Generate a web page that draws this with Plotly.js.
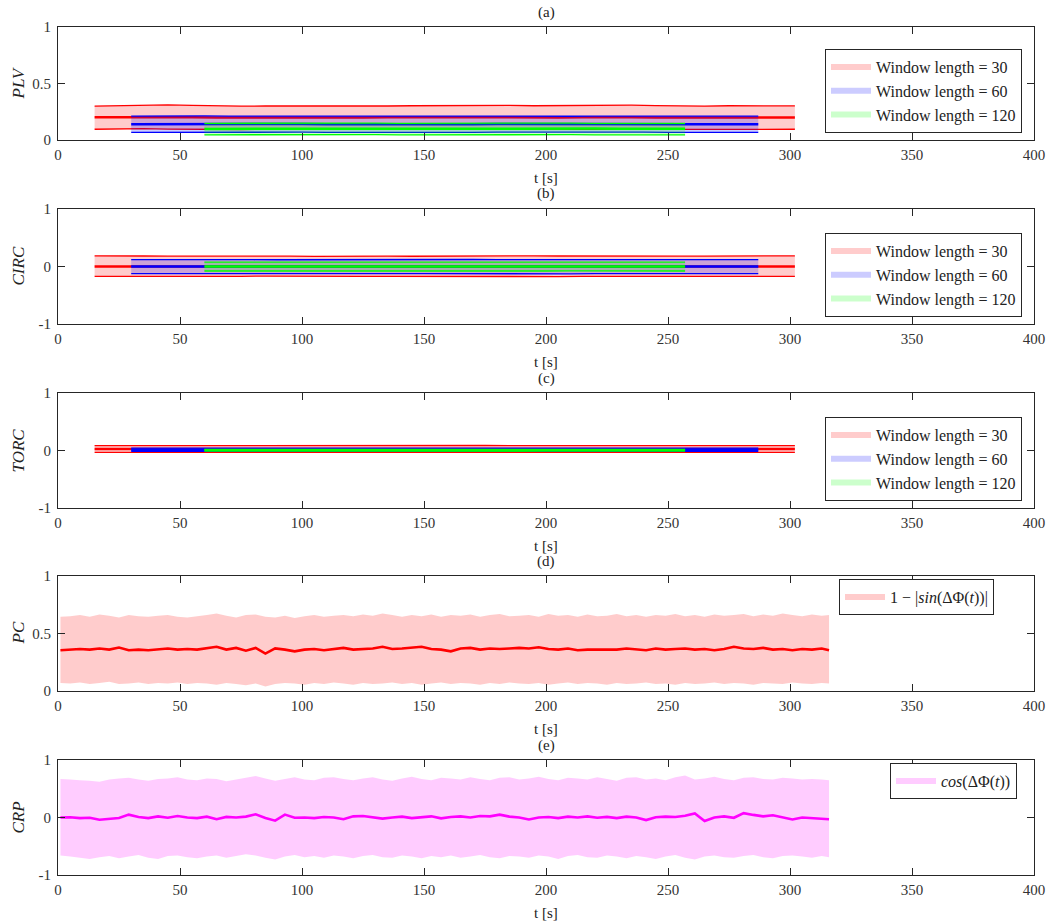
<!DOCTYPE html>
<html>
<head>
<meta charset="utf-8">
<script src="https://cdn.plot.ly/plotly-3.0.1.min.js"></script>
<style>html,body{margin:0;padding:0;background:#fff;}#plot{width:1050px;height:924px;}</style>
</head>
<body>
<div id="plot"></div>
<script>
// ---------------- DATA ----------------
const xTickVals = [0, 50, 100, 150, 200, 250, 300, 350, 400];
const yTicksPos = [0, 0.5, 1];
const yTicksPosText = ['0', '0.5', '1'];
const yTicksSym = [-1, 0, 1];
const yTicksSymText = ['-1', '0', '1'];
const panelLabels = ['(a)', '(b)', '(c)', '(d)', '(e)'];
const yLabels = ['PLV', 'CIRC', 'TORC', 'PC', 'CRP'];
const windowNames = ['Window length = 30', 'Window length = 60', 'Window length = 120'];

// window centres (s)
const t30 = [15,25,35,45,55,65,75,85,95,105, 115,125,135,145,155,165,175,185,195,205, 215,225,235,245,255,265,275,285,295,302];
const t60 = [30,40,50,60,70,80,90,100,110,120, 130,140,150,160,170,180,190,200,210,220, 230,240,250,260,270,280,287];
const t120 = [60,70,80,90,100,110,120,130,140,150, 160,170,180,190,200,210,220,230,240,250, 257];

// (a) PLV
const plv30Up   = [0.300,0.305,0.308,0.310,0.306,0.302,0.300,0.301,0.300,0.302, 0.303,0.300,0.301,0.303,0.305,0.302,0.304,0.306,0.303,0.305, 0.307,0.310,0.308,0.305,0.302,0.300,0.303,0.301,0.300,0.302];
const plv30Mean = [0.202,0.203,0.205,0.204,0.202,0.200,0.199,0.200,0.201,0.200, 0.199,0.200,0.201,0.200,0.202,0.201,0.200,0.202,0.201,0.200, 0.201,0.203,0.202,0.200,0.199,0.200,0.201,0.200,0.199,0.200];
const plv30Lo   = [0.095,0.098,0.100,0.097,0.094,0.095,0.093,0.095,0.096,0.094, 0.095,0.097,0.096,0.094,0.095,0.097,0.096,0.095,0.094,0.096, 0.095,0.097,0.096,0.094,0.095,0.093,0.095,0.096,0.094,0.095];
const plv60Up   = [0.212,0.214,0.215,0.213,0.211,0.210,0.211,0.212,0.211,0.210, 0.211,0.212,0.211,0.210,0.212,0.213,0.212,0.211,0.210,0.211, 0.212,0.213,0.211,0.210,0.211,0.212,0.211];
const plv60Mean = [0.140,0.141,0.142,0.141,0.140,0.139,0.140,0.141,0.140,0.139, 0.140,0.141,0.140,0.139,0.140,0.141,0.140,0.139,0.140,0.141, 0.140,0.141,0.140,0.139,0.140,0.141,0.140];
const plv60Lo   = [0.068,0.069,0.070,0.069,0.068,0.067,0.068,0.069,0.068,0.067, 0.068,0.069,0.068,0.067,0.068,0.069,0.070,0.069,0.068,0.067, 0.068,0.069,0.068,0.067,0.068,0.069,0.068];
const plv120Up   = [0.148,0.149,0.150,0.149,0.148,0.149,0.150,0.149,0.148,0.149, 0.150,0.151,0.150,0.149,0.150,0.149,0.148,0.149,0.150,0.149, 0.148];
const plv120Mean = [0.098,0.099,0.100,0.099,0.098,0.099,0.100,0.101,0.100,0.099, 0.100,0.101,0.100,0.099,0.100,0.101,0.102,0.100,0.099,0.100, 0.099];
const plv120Lo   = [0.046,0.047,0.048,0.047,0.046,0.047,0.048,0.047,0.046,0.047, 0.048,0.047,0.046,0.047,0.048,0.047,0.046,0.047,0.048,0.047, 0.046];

// (b) CIRC
const circ30Up   = [0.185,0.188,0.183,0.180,0.182,0.178,0.175,0.178,0.180,0.177, 0.182,0.185,0.180,0.178,0.182,0.184,0.180,0.182,0.185,0.183, 0.180,0.182,0.186,0.183,0.180,0.182,0.185,0.183,0.186,0.184];
const circ30Mean = [0.002,0.003,0.002,0.001,0.002,0.001,0.000,0.001,0.002,0.001, 0.000,0.001,0.002,0.001,0.000,0.001,0.002,0.001,0.000,0.001, 0.002,0.001,0.000,0.001,0.002,0.001,0.000,0.001,0.002,0.001];
const circ30Lo   = [-0.170,-0.172,-0.168,-0.172,-0.175,-0.173,-0.170,-0.168,-0.172,-0.175, -0.178,-0.173,-0.170,-0.172,-0.175,-0.172,-0.170,-0.168,-0.172,-0.175, -0.172,-0.170,-0.173,-0.175,-0.172,-0.170,-0.173,-0.171,-0.170,-0.172];
const circ60Up   = [0.120,0.122,0.121,0.119,0.120,0.118,0.117,0.119,0.120,0.121, 0.122,0.120,0.119,0.121,0.122,0.120,0.119,0.121,0.122,0.120, 0.119,0.120,0.122,0.121,0.119,0.120,0.121];
const circ60Mean = [0.001,0.001,0.000,0.000,0.001,0.000,-0.001,0.000,0.001,0.000, 0.000,0.001,0.000,-0.001,0.000,0.001,0.000,0.000,0.001,0.000, -0.001,0.000,0.001,0.000,0.000,0.001,0.000];
const circ60Lo   = [-0.125,-0.126,-0.124,-0.125,-0.127,-0.126,-0.124,-0.125,-0.127,-0.128, -0.126,-0.125,-0.124,-0.126,-0.127,-0.125,-0.124,-0.126,-0.127,-0.125, -0.124,-0.126,-0.125,-0.124,-0.126,-0.125,-0.124];
const circ120Up   = [0.076,0.077,0.076,0.075,0.076,0.077,0.078,0.077,0.076,0.075, 0.076,0.077,0.078,0.077,0.076,0.075,0.076,0.077,0.076,0.075, 0.076];
const circ120Mean = [0.000,0.001,0.000,-0.001,0.000,0.001,0.000,0.000,-0.001,0.000, 0.001,0.000,0.000,0.001,0.000,-0.001,0.000,0.001,0.000,0.000, 0.001];
const circ120Lo   = [-0.078,-0.079,-0.078,-0.077,-0.078,-0.079,-0.080,-0.079,-0.078,-0.077, -0.078,-0.079,-0.080,-0.079,-0.078,-0.077,-0.078,-0.079,-0.078,-0.077, -0.078];

// (c) TORC
const torc30Up   = [0.085,0.086,0.085,0.084,0.085,0.086,0.085,0.084,0.085,0.086, 0.087,0.086,0.085,0.084,0.085,0.086,0.087,0.086,0.085,0.084, 0.085,0.086,0.087,0.086,0.085,0.084,0.085,0.086,0.085,0.084];
const torc30Mean = [0.026,0.026,0.025,0.025,0.026,0.025,0.024,0.025,0.026,0.025, 0.025,0.026,0.025,0.024,0.025,0.026,0.026,0.025,0.024,0.025, 0.026,0.025,0.025,0.026,0.025,0.024,0.025,0.026,0.025,0.025];
const torc30Lo   = [-0.032,-0.031,-0.032,-0.033,-0.032,-0.031,-0.032,-0.033,-0.032,-0.031, -0.032,-0.033,-0.032,-0.031,-0.032,-0.033,-0.032,-0.031,-0.032,-0.033, -0.032,-0.031,-0.032,-0.033,-0.032,-0.031,-0.032,-0.033,-0.032,-0.031];
const torc60Up   = [0.040,0.041,0.040,0.039,0.040,0.041,0.040,0.039,0.040,0.041, 0.040,0.039,0.040,0.041,0.040,0.039,0.040,0.041,0.040,0.039, 0.040,0.041,0.040,0.039,0.040,0.041,0.040];
const torc60Mean = [0.012,0.012,0.013,0.012,0.011,0.012,0.013,0.012,0.011,0.012, 0.012,0.013,0.012,0.011,0.012,0.013,0.012,0.011,0.012,0.012, 0.013,0.012,0.011,0.012,0.013,0.012,0.012];
const torc60Lo   = [-0.016,-0.015,-0.016,-0.017,-0.016,-0.015,-0.016,-0.017,-0.016,-0.015, -0.016,-0.017,-0.016,-0.015,-0.016,-0.017,-0.016,-0.015,-0.016,-0.017, -0.016,-0.015,-0.016,-0.017,-0.016,-0.015,-0.016];
const torc120Up   = [0.020,0.021,0.020,0.019,0.020,0.021,0.020,0.019,0.020,0.021, 0.020,0.019,0.020,0.021,0.020,0.019,0.020,0.021,0.020,0.019, 0.020];
const torc120Mean = [0.006,0.006,0.005,0.006,0.007,0.006,0.005,0.006,0.007,0.006, 0.005,0.006,0.007,0.006,0.005,0.006,0.007,0.006,0.005,0.006, 0.006];
const torc120Lo   = [-0.008,-0.009,-0.008,-0.007,-0.008,-0.009,-0.008,-0.007,-0.008,-0.009, -0.008,-0.007,-0.008,-0.009,-0.008,-0.007,-0.008,-0.009,-0.008,-0.007, -0.008];

// instantaneous measures (s)
const tInst = [1,5,9,13,17,21,25,29,33,37, 41,45,49,53,57,61,65,69,73,77, 81,85,89,93,97,101,105,109,113,117, 121,125,129,133,137,141,145,149,153,157, 161,165,169,173,177,181,185,189,193,197, 201,205,209,213,217,221,225,229,233,237, 241,245,249,253,257,261,265,269,273,277, 281,285,289,293,297,301,305,309,313,316];

// (d) PC = 1 - |sin(dPhi)|
const pcMean = [0.355,0.360,0.365,0.360,0.370,0.360,0.378,0.355,0.360,0.355, 0.365,0.370,0.360,0.365,0.360,0.370,0.385,0.360,0.375,0.350, 0.375,0.325,0.370,0.360,0.345,0.360,0.365,0.355,0.365,0.375, 0.360,0.365,0.370,0.385,0.365,0.370,0.375,0.385,0.365,0.360, 0.345,0.370,0.375,0.360,0.370,0.365,0.370,0.375,0.370,0.380, 0.365,0.360,0.370,0.355,0.360,0.360,0.365,0.360,0.370,0.365, 0.355,0.370,0.360,0.365,0.370,0.360,0.365,0.355,0.365,0.385, 0.370,0.365,0.375,0.360,0.365,0.355,0.365,0.360,0.370,0.355];
const pcUp   = [0.645,0.650,0.660,0.645,0.665,0.655,0.640,0.660,0.650,0.645, 0.655,0.660,0.645,0.640,0.650,0.660,0.675,0.655,0.640,0.660, 0.665,0.645,0.640,0.655,0.635,0.650,0.660,0.645,0.655,0.660, 0.650,0.665,0.655,0.675,0.660,0.645,0.660,0.650,0.665,0.645, 0.660,0.655,0.665,0.645,0.660,0.670,0.650,0.655,0.660,0.645, 0.670,0.655,0.660,0.645,0.665,0.650,0.655,0.670,0.650,0.660, 0.645,0.660,0.655,0.670,0.650,0.660,0.645,0.665,0.655,0.660, 0.670,0.650,0.665,0.655,0.675,0.660,0.650,0.665,0.655,0.660];
const pcLo   = [0.070,0.065,0.075,0.060,0.070,0.080,0.060,0.065,0.075,0.060, 0.070,0.065,0.075,0.060,0.070,0.065,0.055,0.070,0.060,0.050, 0.065,0.040,0.060,0.070,0.065,0.055,0.070,0.060,0.075,0.065, 0.055,0.070,0.060,0.065,0.075,0.060,0.070,0.055,0.065,0.075, 0.060,0.070,0.065,0.055,0.070,0.060,0.075,0.065,0.060,0.070, 0.055,0.065,0.075,0.060,0.070,0.065,0.055,0.070,0.060,0.065, 0.075,0.060,0.065,0.055,0.070,0.060,0.065,0.075,0.060,0.070, 0.065,0.055,0.070,0.065,0.060,0.075,0.065,0.060,0.070,0.065];

// (e) CRP = cos(dPhi)
const crpMean = [0.000,0.005,-0.010,-0.005,-0.040,-0.020,-0.010,0.050,0.010,-0.010, 0.020,-0.005,0.025,0.000,-0.010,0.015,-0.030,0.010,0.000,0.015, 0.055,-0.010,-0.055,0.050,-0.005,0.000,-0.010,0.010,0.000,-0.030, 0.020,0.025,0.000,-0.020,0.000,0.015,-0.010,0.005,0.020,-0.015, 0.010,0.020,0.000,0.025,0.020,0.050,0.015,0.000,-0.035,0.000, 0.010,-0.010,0.015,0.000,0.020,-0.005,0.010,-0.010,0.015,0.000, -0.045,0.005,0.015,0.010,0.030,0.070,-0.060,0.000,0.020,-0.005, 0.075,0.045,0.020,0.040,0.005,-0.035,0.000,-0.010,-0.015,-0.030];
const crpUp   = [0.67,0.66,0.65,0.64,0.62,0.66,0.68,0.69,0.66,0.64, 0.67,0.68,0.70,0.66,0.65,0.68,0.67,0.63,0.66,0.69, 0.72,0.68,0.64,0.67,0.70,0.66,0.65,0.69,0.70,0.67, 0.65,0.68,0.70,0.66,0.64,0.68,0.71,0.67,0.65,0.69, 0.68,0.66,0.70,0.67,0.65,0.69,0.70,0.66,0.68,0.71, 0.67,0.65,0.69,0.68,0.66,0.70,0.67,0.64,0.69,0.70, 0.66,0.68,0.65,0.70,0.73,0.66,0.68,0.71,0.67,0.65, 0.69,0.70,0.67,0.66,0.69,0.68,0.66,0.67,0.66,0.65];
const crpLo   = [-0.66,-0.68,-0.70,-0.72,-0.69,-0.67,-0.71,-0.68,-0.65,-0.70, -0.72,-0.67,-0.66,-0.69,-0.71,-0.68,-0.66,-0.70,-0.67,-0.64, -0.66,-0.70,-0.73,-0.68,-0.65,-0.69,-0.67,-0.70,-0.66,-0.68, -0.71,-0.67,-0.65,-0.69,-0.70,-0.66,-0.68,-0.71,-0.67,-0.69, -0.66,-0.70,-0.68,-0.65,-0.69,-0.71,-0.67,-0.68,-0.70,-0.66, -0.68,-0.72,-0.67,-0.65,-0.69,-0.70,-0.66,-0.68,-0.71,-0.67, -0.69,-0.72,-0.68,-0.65,-0.70,-0.73,-0.68,-0.66,-0.69,-0.70, -0.67,-0.65,-0.69,-0.71,-0.67,-0.66,-0.68,-0.70,-0.67,-0.69];

// ---------------- STYLE ----------------
const FONT = '"Liberation Serif", "DejaVu Serif", serif';
const AX = '#262626';
const W = 1050, H = 924;
const xDom = [58 / W, 1034 / W];
const panelPx = [[27, 140], [209, 324], [393, 508], [576, 691], [760, 875]];
const yDoms = panelPx.map(p => [1 - p[1] / H, 1 - p[0] / H]);

const winStyles = [
  {line: '#ff0000', fill: 'rgba(255,0,0,0.2)'},
  {line: '#0000ff', fill: 'rgba(0,0,255,0.2)'},
  {line: '#00ff00', fill: 'rgba(0,255,0,0.2)'}
];

function band(t, up, mean, lo, st, name, k, leg, showEdges, meanW) {
  const xa = k === 0 ? 'x' : 'x' + (k + 1);
  const ya = k === 0 ? 'y' : 'y' + (k + 1);
  const out = [{
    x: t.concat(t.slice().reverse()),
    y: up.concat(lo.slice().reverse()),
    type: 'scatter', mode: 'none', fill: 'toself', fillcolor: st.fill,
    name: name, legend: leg, xaxis: xa, yaxis: ya, hoverinfo: 'skip'
  }];
  if (showEdges) {
    out.push({x: t, y: up, type: 'scatter', mode: 'lines', line: {color: st.line, width: 1.3}, showlegend: false, xaxis: xa, yaxis: ya});
    out.push({x: t, y: lo, type: 'scatter', mode: 'lines', line: {color: st.line, width: 1.3}, showlegend: false, xaxis: xa, yaxis: ya});
  }
  out.push({x: t, y: mean, type: 'scatter', mode: 'lines', line: {color: st.line, width: meanW}, showlegend: false, xaxis: xa, yaxis: ya});
  return out;
}

const windowSets = [
  [[plv30Up, plv30Mean, plv30Lo], [plv60Up, plv60Mean, plv60Lo], [plv120Up, plv120Mean, plv120Lo]],
  [[circ30Up, circ30Mean, circ30Lo], [circ60Up, circ60Mean, circ60Lo], [circ120Up, circ120Mean, circ120Lo]],
  [[torc30Up, torc30Mean, torc30Lo], [torc60Up, torc60Mean, torc60Lo], [torc120Up, torc120Mean, torc120Lo]]
];
const winTimes = [t30, t60, t120];
const legNames = ['legend', 'legend2', 'legend3', 'legend4', 'legend5'];

let traces = [];
windowSets.forEach((set, k) => {
  set.forEach((s, w) => {
    traces = traces.concat(band(winTimes[w], s[0], s[1], s[2], winStyles[w], windowNames[w], k, legNames[k], true, 2.5));
  });
});
traces = traces.concat(band(tInst, pcUp, pcMean, pcLo, {line: '#ff0000', fill: 'rgba(255,0,0,0.2)'},
  '1 − |<i>sin</i>(ΔΦ(<i>t</i>))|', 3, 'legend4', false, 2.6));
traces = traces.concat(band(tInst, crpUp, crpMean, crpLo, {line: '#ff00ff', fill: 'rgba(255,0,255,0.2)'},
  '<i>cos</i>(ΔΦ(<i>t</i>))', 4, 'legend5', false, 2.6));

const layout = {
  width: W, height: H,
  margin: {l: 0, r: 0, t: 0, b: 0},
  paper_bgcolor: '#fff', plot_bgcolor: '#fff',
  showlegend: true,
  font: {family: FONT, color: '#222'},
  annotations: []
};

const symPanels = [false, true, true, false, true];
for (let k = 0; k < 5; k++) {
  const sx = k === 0 ? 'xaxis' : 'xaxis' + (k + 1);
  const sy = k === 0 ? 'yaxis' : 'yaxis' + (k + 1);
  const ya = k === 0 ? 'y' : 'y' + (k + 1);
  const xa = k === 0 ? 'x' : 'x' + (k + 1);
  layout[sx] = {
    domain: xDom, anchor: ya, range: [0, 400],
    tickvals: xTickVals, ticks: 'inside', ticklen: 7, tickcolor: AX, tickwidth: 1,
    mirror: 'allticks', showline: true, linecolor: AX, linewidth: 1,
    showgrid: false, zeroline: false, fixedrange: true,
    tickfont: {family: FONT, size: 15, color: '#333'}, ticklabelstandoff: 1
  };
  layout[sy] = {
    domain: yDoms[k], anchor: xa,
    range: symPanels[k] ? [-1, 1] : [0, 1],
    tickvals: symPanels[k] ? yTicksSym : yTicksPos,
    ticktext: symPanels[k] ? yTicksSymText : yTicksPosText,
    ticks: 'inside', ticklen: 7, tickcolor: AX, tickwidth: 1,
    mirror: 'allticks', showline: true, linecolor: AX, linewidth: 1,
    showgrid: false, zeroline: false, fixedrange: true,
    tickfont: {family: FONT, size: 15, color: '#333'}, ticklabelstandoff: 3
  };
  const top = panelPx[k][0], bot = panelPx[k][1];
  layout.annotations.push({text: panelLabels[k], xref: 'paper', yref: 'paper', x: 546 / W, y: 1 - (top - 15) / H,
    xanchor: 'center', yanchor: 'middle', showarrow: false, font: {family: FONT, size: 15, color: '#222'}});
  layout.annotations.push({text: 't [s]', xref: 'paper', yref: 'paper', x: 546 / W, y: 1 - (bot + 38) / H,
    xanchor: 'center', yanchor: 'middle', showarrow: false, font: {family: FONT, size: 15, color: '#222'}});
  layout.annotations.push({text: '<i>' + yLabels[k] + '</i>', xref: 'paper', yref: 'paper', x: 18 / W, y: 1 - ((top + bot) / 2) / H,
    xanchor: 'center', yanchor: 'middle', textangle: -90, showarrow: false, font: {family: FONT, size: 17, color: '#222'}});
}

const legBase = {bgcolor: '#fff', bordercolor: AX, borderwidth: 1, font: {family: FONT, size: 16, color: '#222'},
  itemwidth: 40, tracegroupgap: 0, xanchor: 'right', itemclick: false, itemdoubleclick: false};
layout.legend  = Object.assign({}, legBase, {x: 1022 / W, y: 1 - 133 / H, yanchor: 'bottom'});
layout.legend2 = Object.assign({}, legBase, {x: 1022 / W, y: 1 - 317 / H, yanchor: 'bottom'});
layout.legend3 = Object.assign({}, legBase, {x: 1022 / W, y: 1 - 501 / H, yanchor: 'bottom'});
layout.legend4 = Object.assign({}, legBase, {x: 994 / W, y: 1 - 579 / H, yanchor: 'top'});
layout.legend5 = Object.assign({}, legBase, {x: 1017 / W, y: 1 - 763 / H, yanchor: 'top'});

Plotly.newPlot('plot', traces, layout, {displayModeBar: false, staticPlot: true});
</script>
</body>
</html>
